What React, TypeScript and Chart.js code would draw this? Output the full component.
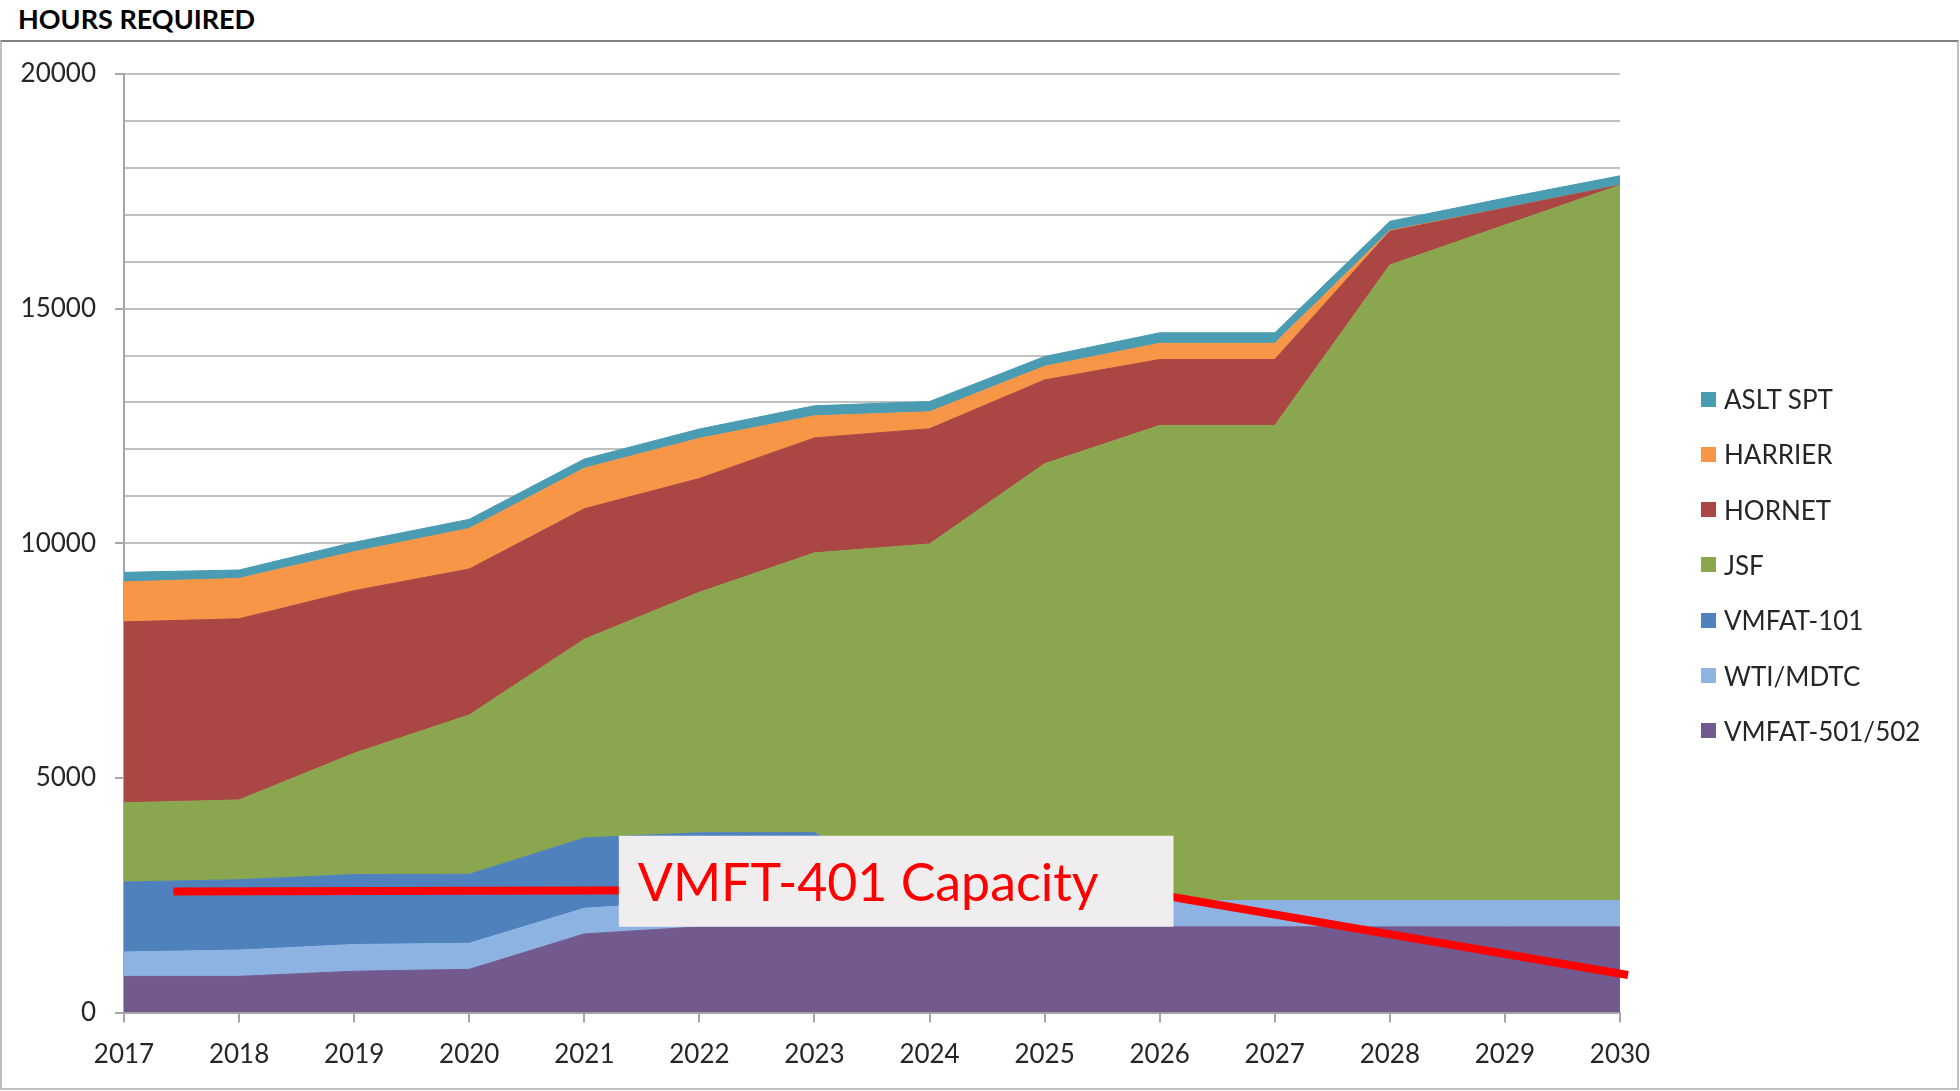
import React, { useEffect, useRef } from 'react';
import { Chart, registerables } from 'chart.js';

Chart.register(...registerables);

// ---------- data ----------
const YEARS = [2017, 2018, 2019, 2020, 2021, 2022, 2023, 2024, 2025, 2026, 2027, 2028, 2029, 2030];

const VMFAT_501_502 = [770, 770, 880, 920, 1675, 1825, 1825, 1825, 1825, 1825, 1825, 1825, 1825, 1825];
const WTI_MDTC = [520, 560, 570, 555, 545, 555, 555, 560, 560, 560, 560, 560, 560, 560];
const VMFAT_101 = [1490, 1500, 1490, 1470, 1500, 1450, 1455, 0, 0, 0, 0, 0, 0, 0];
const JSF = [1690, 1700, 2585, 3395, 4235, 5125, 5960, 7600, 9310, 10125, 10125, 13545, 14395, 15245];
const HORNET = [3855, 3860, 3465, 3110, 2780, 2425, 2450, 2455, 1785, 1405, 1405, 720, 360, 0];
const HARRIER = [850, 860, 830, 865, 865, 855, 470, 360, 290, 345, 345, 15, 0, 0];
const ASLT_SPT = [205, 180, 200, 195, 195, 200, 215, 220, 210, 225, 225, 195, 215, 200];

const CAPACITY_YEARS = [2017.43, 2025.72, 2030.07];
const CAPACITY_HOURS = [2578, 2625, 800];
const CAPACITY_LABEL = 'VMFT-401 Capacity';

const Y_MAX = 20000;
const Y_STEP = 1000;
const Y_LABEL_STEP = 5000;

const SERIES = [
  { label: 'VMFAT-501/502', data: VMFAT_501_502, color: '#725A8F' },
  { label: 'WTI/MDTC', data: WTI_MDTC, color: '#8DB3E2' },
  { label: 'VMFAT-101', data: VMFAT_101, color: '#4F81BD' },
  { label: 'JSF', data: JSF, color: '#8AA64F' },
  { label: 'HORNET', data: HORNET, color: '#AA4644' },
  { label: 'HARRIER', data: HARRIER, color: '#F79646' },
  { label: 'ASLT SPT', data: ASLT_SPT, color: '#4A9CB3' },
];

// annotation box placement (in data units)
const LABEL_BOX = { x0: 2021.3, x1: 2026.12, y0: 1828, y1: 3767 };

const FONT = 'Lato, "Open Sans", "DejaVu Sans", sans-serif';

const labelBoxPlugin = {
  id: 'capacityLabel',
  afterDatasetsDraw(chart: any) {
    const { ctx, scales } = chart;
    const xs = scales.x;
    const ys = scales.y;
    const left = xs.getPixelForValue(LABEL_BOX.x0);
    const right = xs.getPixelForValue(LABEL_BOX.x1);
    const top = ys.getPixelForValue(LABEL_BOX.y1);
    const bottom = ys.getPixelForValue(LABEL_BOX.y0);
    ctx.save();
    ctx.fillStyle = '#EFEDED';
    ctx.fillRect(left, top, right - left, bottom - top);
    ctx.fillStyle = '#FF0000';
    ctx.font = '53px ' + FONT;
    ctx.textBaseline = 'alphabetic';
    ctx.textAlign = 'left';
    ctx.fillText(CAPACITY_LABEL, left + 19, bottom - 26, right - left - 94);
    ctx.restore();
  },
};

export default function App() {
  const canvasRef = useRef<HTMLCanvasElement | null>(null);

  useEffect(() => {
    let chart: Chart | null = null;
    let cancelled = false;
    const make = () => {
      if (cancelled || !canvasRef.current) return;
      chart = new Chart(canvasRef.current, {
        type: 'line',
        data: {
          datasets: [
            ...SERIES.map((s, i) => ({
              label: s.label,
              data: YEARS.map((yr, j) => ({ x: yr, y: s.data[j] })),
              backgroundColor: s.color,
              borderColor: s.color,
              borderWidth: 1,
              pointRadius: 0,
              pointHoverRadius: 0,
              tension: 0,
              fill: i === 0 ? 'origin' : '-1',
              stack: 'hours',
              order: 1,
            })),
            {
              label: CAPACITY_LABEL,
              data: CAPACITY_YEARS.map((x, i) => ({ x, y: CAPACITY_HOURS[i] })),
              borderColor: '#FF0000',
              backgroundColor: '#FF0000',
              borderWidth: 8,
              pointRadius: 0,
              pointHoverRadius: 0,
              tension: 0,
              fill: false,
              stack: 'capacity',
              clip: false,
              order: 0,
            } as any,
          ],
        },
        options: {
          animation: false,
          responsive: false,
          devicePixelRatio: 1,
          events: [],
          layout: { padding: { left: 0, top: 74, right: 340, bottom: 0 } },
          plugins: {
            legend: { display: false },
            tooltip: { enabled: false },
            title: { display: false },
          },
          scales: {
            x: {
              type: 'linear',
              min: YEARS[0],
              max: YEARS[YEARS.length - 1],
              ticks: {
                stepSize: 1,
                autoSkip: false,
                maxRotation: 0,
                padding: 17,
                color: '#262626',
                font: { family: FONT, size: 26 },
                callback: (v: any) => String(v),
              },
              grid: {
                drawOnChartArea: false,
                drawTicks: true,
                tickLength: 10,
                color: '#A6A6A6',
                lineWidth: 2,
              },
              border: { color: '#A6A6A6', width: 2 },
              afterFit: (s: any) => {
                s.height = 78.5;
              },
            },
            y: {
              stacked: true,
              min: 0,
              max: Y_MAX,
              ticks: {
                stepSize: Y_STEP,
                autoSkip: false,
                padding: 19,
                color: '#262626',
                font: { family: FONT, size: 26 },
                callback: (v: any) => (Number(v) % Y_LABEL_STEP === 0 ? String(v) : ''),
              },
              grid: {
                color: '#C0C0C0',
                lineWidth: 2,
                tickLength: 9,
                tickColor: (ctx: any) =>
                  ctx.tick && ctx.tick.value % Y_LABEL_STEP === 0 ? '#A6A6A6' : 'rgba(0,0,0,0)',
              },
              border: { color: '#A6A6A6', width: 2 },
              afterFit: (s: any) => {
                s.width = 124;
              },
            },
          },
        } as any,
        plugins: [labelBoxPlugin],
      });
    };
    const fontsApi = (document as any).fonts;
    if (fontsApi && fontsApi.load) {
      Promise.all([
        fontsApi.load('26px Lato'),
        fontsApi.load('bold 27px Lato'),
        fontsApi.load('53px Lato'),
      ])
        .catch(() => null)
        .then(make);
    } else {
      make();
    }
    return () => {
      cancelled = true;
      if (chart) chart.destroy();
    };
  }, []);

  const legendItems = [...SERIES].reverse();

  return (
    <div
      style={{
        position: 'fixed',
        left: 0,
        top: 0,
        width: 1960,
        height: 1091,
        background: '#ffffff',
        overflow: 'hidden',
        fontFamily: FONT,
      }}
    >
      <div
        style={{
          position: 'absolute',
          left: 18,
          top: 3,
          fontSize: 27,
          fontWeight: 700,
          lineHeight: 1.2,
          color: '#000000',
          whiteSpace: 'nowrap',
        }}
      >
        HOURS REQUIRED
      </div>
      <div
        style={{
          position: 'absolute',
          left: 0,
          top: 40,
          width: 1959,
          height: 1050,
          boxSizing: 'border-box',
          borderTop: '2px solid #808080',
          borderLeft: '2px solid #BFBFBF',
          borderRight: '2px solid #BFBFBF',
          borderBottom: '2px solid #BFBFBF',
        }}
      />
      <canvas
        ref={canvasRef}
        width={1960}
        height={1091}
        style={{ position: 'absolute', left: 0, top: 0, width: 1960, height: 1091 }}
      />
      {legendItems.map((s, i) => (
        <div
          key={s.label}
          style={{
            position: 'absolute',
            left: 1701,
            top: 399 + i * 55.3 - 13,
            height: 26,
            display: 'flex',
            alignItems: 'center',
            whiteSpace: 'nowrap',
          }}
        >
          <div style={{ width: 15, height: 15, background: s.color, marginRight: 8 }} />
          <span style={{ fontSize: 26, lineHeight: '26px', color: '#262626' }}>{s.label}</span>
        </div>
      ))}
    </div>
  );
}
